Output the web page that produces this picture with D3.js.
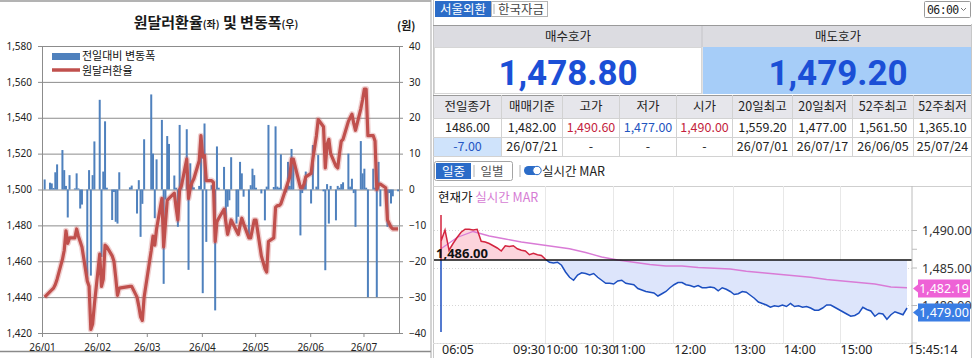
<!DOCTYPE html>
<html>
<head>
<meta charset="utf-8">
<script src="https://cdn.jsdelivr.net/npm/d3@7"></script>
<style>
  body { margin: 0; background: #fff; }
  svg { display: block; font-family: "Noto Sans CJK KR", "Noto Sans", sans-serif; }
</style>
</head>
<body>
<svg id="chart" width="976" height="358"></svg>
<script>
// ---- 원달러환율 (일별) : 거래일, 종가, 전일대비 변동폭 ----
const janDays = [2,5,6,7,8,9,12,13,14,15,16,19,20,21,22,23,26,27,28,29,30];
const febDays = [2,3,4,5,6,9,10,11,12,13,19,20,23,24,25,26,27];
const marDays = [3,4,5,6,9,10,11,12,13,16,17,18,19,20,23,24,25,26,27,30,31];
const aprDays = [1,2,3,6,7,8,9,10,13,14,15,16,17,20,21,22,23,24,27,28,29,30];
const mayDays = [1,4,6,7,8,11,12,13,14,15,18,19,20,21,22,26,27,28,29];
const junDays = [1,2,4,5,8,9,10,11,12,15,16,17,18,19,22,23,24,25,26,29,30];
const julDays = [1,2,3,6,7,8,9,10,13,14,15,16,17,20];

const rate = [
  1440,1443,1444,1445,1447,1450,1461,1466,1477,1470,1473,1473,1478,1474,1471,1468,1449,1446,1422,1425,1436,
  1464,1446,1450,1469,1468,1463,1460,1451,1441,1445,1446,1446,1440,1435,1429,1427,1440,
  1466,1474,1469,1478,1495,1468,1481,1494,1495,1498,1490,1483,1500,1502,1517,1495,1501,1504,1506,1516,1530,
  1518,1519,1505,1505,1504,1471,1482,1484,1489,1482,1475,1479,1483,1477,1475,1480,1484,1481,1473,1473,1478,1483,
  1483,1463,1456,1454,1471,1473,1490,1491,1491,1492,1501,1504,1507,1517,1517,1501,1501,1503,1507,
  1509,1517,1530,1539,1535,1512,1525,1528,1520,1513,1512,1520,1527,1528,1538,1540,1542,1537,1533,1545,1550,
  1556,1556,1530,1530,1527,1500,1503,1503,1501,1483,1481,1479,1478,1478
];
const change = [
  2.8,1.9,1.7,0.4,4.8,7.0,11.0,5.4,1.0,-7.8,4.0,0.3,4.5,0.3,-5.3,-4.2,-25.0,5.4,-24.0,4.0,13.4,
  25.0,-18.8,5.0,19.0,0.5,-8.5,-0.7,-9.0,-9.5,4.8,0.6,1.1,-6.7,2.6,-13.2,-4.0,14.0,
  26.5,10.0,-8.0,8.4,19.4,-26.3,-2.8,14.9,12.7,3.9,0.5,-10.4,18.0,0.8,16.8,-22.4,7.3,2.0,0.6,1.0,15.0,
  -28.9,18.4,-14.6,1.2,-1.0,-33.7,12.0,0.5,6.3,-10.0,-4.8,-3.0,9.0,-9.5,-7.6,7.7,4.5,-2.0,-12.8,1.2,5.8,4.0,
  0.5,-1.1,-8.6,0.8,18.0,0.7,17.6,0.8,0.5,9.8,-0.8,7.7,1.0,11.3,8.7,-12.8,-1.0,1.0,5.0,
  -3.9,12.4,0.8,9.6,-0.5,-22.5,1.5,-9.5,1.0,-8.6,1.0,0.5,1.5,2.0,10.0,0.8,3.0,-1.0,-10.4,13.5,4.5,
  5.8,0.5,-30.0,5.8,0.5,-30.0,7.7,-4.7,0.5,-10.4,-1.0,-3.9,-1.9,-0.5
];
const rateTicks = [1420,1440,1460,1480,1500,1520,1540,1560,1580];
const changeTicks = [-40,-30,-20,-10,0,10,20,30,40];
const monthLabels = ['26/01','26/02','26/03','26/04','26/05','26/06','26/07'];

// ---- 서울외환 시세판 ----
const quoteHeads = ['매수호가', '매도호가'];
const quotes = ['1,478.80', '1,479.20'];
const statHeads = ['전일종가','매매기준','고가','저가','시가','20일최고','20일최저','52주최고','52주최저'];
const statRow1 = ['1486.00','1,482.00','1,490.60','1,477.00','1,490.00','1,559.20','1,477.00','1,561.50','1,365.10'];
const statRow2 = ['-7.00','26/07/21','-','-','-','26/07/01','26/07/17','26/06/05','25/07/24'];

// ---- 일중 차트: 틱 순서대로 현재가, 실시간 MAR (4틱 간격) ----
const prevClose = 1486;
const openSpike = [1492.0, 1476.4];
const spot = [
  1488.5,1490.0,1487.3,1488.2,1489.0,1489.7,1490.1,1490.1,1490.0,1490.1,
  1488.5,1488.4,1488.2,1487.9,1487.6,1487.2,1487.9,1487.8,1487.9,1487.5,
  1487.3,1487.2,1486.7,1486.9,1486.7,1486.6,1486.1,1485.7,1485.6,1485.7,
  1485.3,1484.4,1483.7,1483.3,1484.0,1484.3,1484.2,1484.0,1484.2,1483.7,
  1483.3,1482.9,1482.9,1482.8,1483.2,1483.3,1482.9,1482.8,1482.7,1482.2,
  1482.0,1481.8,1481.7,1481.6,1481.2,1481.5,1481.8,1482.3,1482.7,1483.0,
  1483.0,1482.7,1482.6,1482.4,1482.6,1482.3,1482.3,1482.4,1482.3,1481.9,
  1482.3,1482.1,1481.8,1481.4,1481.5,1481.8,1481.7,1481.3,1480.9,1480.4,
  1480.2,1480.0,1479.7,1479.9,1479.8,1480.0,1479.8,1480.2,1479.8,1479.9,
  1479.7,1479.8,1479.6,1479.3,1479.3,1479.6,1480.0,1480.0,1479.7,1479.4,
  1479.1,1478.8,1478.5,1478.6,1478.9,1479.7,1479.4,1479.2,1478.5,1478.9,
  1478.8,1478.1,1478.7,1479.1,1478.9,1478.7,1479.6
];
const marStep = 4;
const mar = [
  1487.5,1489.0,1489.8,1489.2,1488.8,1488.4,1488.1,1487.8,1487.5,1487.0,
  1486.4,1486.0,1485.7,1485.4,1485.2,1485.2,1485.0,1484.9,1484.8,1484.5,
  1484.3,1484.1,1483.9,1483.7,1483.4,1483.2,1483.0,1482.8,1482.4,1482.3
];
const lastSpot = 1479.00;
const lastMar = 1482.19;
const timeLabels = ['06:05','09:30','10:00','10:30','11:00','12:00','13:00','14:00','15:00','15:45:14'];
const timeIdx = [0, 17.7, 25.9, 35.3, 42.7, 57.8, 72.6, 85.1, 99.2, 116];
const priceTicks = [1490, 1485, 1480];

const svg = d3.select('#chart');

/* ================= 왼쪽: 원달러환율 및 변동폭 ================= */
const left = svg.append('g');
const dates = [janDays, febDays, marDays, aprDays, mayDays, junDays, julDays]
  .flatMap((days, m) => days.map(d => new Date(2026, m, d, 12)));
const monthStarts = monthLabels.map((_, m) => new Date(2026, m, 1));

const x = d3.scaleTime().domain([new Date(2026, 0, 1), new Date(2026, 6, 21)]).range([42, 399]);
const yL = d3.scaleLinear().domain([1420, 1580]).range([333, 46]);
const yR = d3.scaleLinear().domain([-40, 40]).range([333, 46]);

// frame of the pasted chart image
left.append('line').attr('x1', 0).attr('x2', 431).attr('y1', 1).attr('y2', 1)
  .attr('stroke', '#9a9a9a').attr('stroke-width', 1.5);
left.append('line').attr('x1', 0).attr('x2', 431).attr('y1', 351.5).attr('y2', 351.5)
  .attr('stroke', '#8a8a8a').attr('stroke-width', 1.5);

left.append('text').attr('x', 216).attr('y', 28).attr('text-anchor', 'middle')
  .attr('font-weight', 'bold').attr('font-size', 15).attr('fill', '#1a1a1a')
  .call(t => {
    t.append('tspan').text('원달러환율');
    t.append('tspan').attr('font-size', 10).text('(좌)');
    t.append('tspan').text(' 및 변동폭');
    t.append('tspan').attr('font-size', 10).text('(우)');
  });
left.append('text').attr('x', 397).attr('y', 30).attr('font-size', 11)
  .attr('font-weight', 'bold').attr('fill', '#1a1a1a').text('(원)');

// gridlines
left.append('g').attr('transform', 'translate(42,0)')
  .call(d3.axisLeft(yL).tickValues(rateTicks).tickSize(-357).tickFormat(''))
  .call(g => g.select('.domain').remove())
  .call(g => g.selectAll('line').attr('stroke', '#8c8c8c'));

function styleAxis(g) {
  g.select('.domain').attr('stroke', '#8c8c8c');
  g.selectAll('.tick line').attr('stroke', '#8c8c8c');
  g.selectAll('text').attr('font-size', 10).attr('fill', '#222')
    .attr('font-family', '"Noto Sans", sans-serif');
}

left.append('g').attr('transform', 'translate(42,0)')
  .call(d3.axisLeft(yL).tickValues(rateTicks).tickSize(4).tickSizeOuter(0).tickPadding(6)
    .tickFormat(d3.format(',')))
  .call(styleAxis);
left.append('g').attr('transform', 'translate(399,0)')
  .call(d3.axisRight(yR).tickValues(changeTicks).tickSize(4).tickSizeOuter(0).tickPadding(6))
  .call(styleAxis)
  .call(g => g.selectAll('text').attr('text-anchor', 'start'));
left.append('g').attr('transform', 'translate(0,333)')
  .call(d3.axisBottom(x).tickValues(monthStarts).tickSize(4).tickSizeOuter(0).tickPadding(7)
    .tickFormat((d, i) => monthLabels[i]))
  .call(styleAxis);

// 전일대비 변동폭 bars
left.append('g').selectAll('rect').data(change).join('rect')
  .attr('x', (d, i) => x(dates[i]) - 1)
  .attr('width', 2)
  .attr('y', d => Math.min(yR(d), yR(0)))
  .attr('height', d => Math.abs(yR(d) - yR(0)))
  .attr('fill', '#4f81bd');

// 원달러환율 line (with soft glow like the excel export)
const rateLine = d3.line().x((d, i) => x(dates[i])).y(d => yL(d));
left.append('path').datum(rate).attr('d', rateLine)
  .attr('fill', 'none').attr('stroke', 'rgba(200,90,90,0.28)').attr('stroke-width', 6)
  .attr('stroke-linejoin', 'round');
left.append('path').datum(rate).attr('d', rateLine)
  .attr('fill', 'none').attr('stroke', '#c0504d').attr('stroke-width', 3.2)
  .attr('stroke-linejoin', 'round');

// legend
const lg = left.append('g').attr('font-size', 11).attr('fill', '#111');
lg.append('rect').attr('x', 52).attr('y', 53).attr('width', 28).attr('height', 7).attr('fill', '#4f81bd');
lg.append('text').attr('x', 82).attr('y', 60).text('전일대비 변동폭');
lg.append('line').attr('x1', 52).attr('x2', 80).attr('y1', 70).attr('y2', 70)
  .attr('stroke', '#c0504d').attr('stroke-width', 3.5);
lg.append('text').attr('x', 82).attr('y', 75).text('원달러환율');

/* ================= 오른쪽: 시세판 ================= */
const right = svg.append('g');
const pL = 433, pR = 971, mid = 702;

right.append('line').attr('x1', 431).attr('x2', 431).attr('y1', 0).attr('y2', 358).attr('stroke', '#a8a8a8');
right.append('line').attr('x1', 433.5).attr('x2', 433.5).attr('y1', 0).attr('y2', 358).attr('stroke', '#c8c8c8');
right.append('line').attr('x1', pR + 0.5).attr('x2', pR + 0.5).attr('y1', 24).attr('y2', 358).attr('stroke', '#c8c8c8');

// tabs
right.append('rect').attr('x', 435).attr('y', 1).attr('width', 56).attr('height', 16).attr('fill', '#2b6cc8');
right.append('text').attr('x', 463).attr('y', 14).attr('text-anchor', 'middle')
  .attr('font-size', 12.5).attr('fill', '#fff').text('서울외환');
right.append('rect').attr('x', 491.5).attr('y', 1.5).attr('width', 56).attr('height', 15)
  .attr('fill', '#fff').attr('stroke', '#b5b5b5');
right.append('line').attr('x1', 494).attr('x2', 494).attr('y1', 4).attr('y2', 14).attr('stroke', '#b0b0b0');
right.append('text').attr('x', 521).attr('y', 14).attr('text-anchor', 'middle')
  .attr('font-size', 12.5).attr('fill', '#444').text('한국자금');

right.append('rect').attr('x', 924.5).attr('y', 1.5).attr('width', 46).attr('height', 16)
  .attr('fill', '#fff').attr('stroke', '#9a9a9a').attr('rx', 1);
right.append('text').attr('x', 927).attr('y', 14).attr('font-size', 11.5).attr('fill', '#222')
  .attr('font-family', '"DejaVu Sans Mono", monospace').attr('letter-spacing', -0.6).text('06:00');
right.append('path').attr('d', 'M961,8 L963.5,10.5 L966,8').attr('fill', 'none').attr('stroke', '#777');

// 매수/매도 호가
right.append('line').attr('x1', pL).attr('x2', pR).attr('y1', 25.5).attr('y2', 25.5).attr('stroke', '#9a9a9a');
right.append('rect').attr('x', pL + 1).attr('y', 26).attr('width', pR - pL - 1).attr('height', 21).attr('fill', '#dcdce1');
right.append('line').attr('x1', mid).attr('x2', mid).attr('y1', 26).attr('y2', 94).attr('stroke', '#c4c4c8');
right.append('rect').attr('x', pL + 1.5).attr('y', 47.5).attr('width', mid - pL - 2).attr('height', 46)
  .attr('fill', '#fff').attr('stroke', '#d6d6d6');
right.append('rect').attr('x', mid + 1).attr('y', 47).attr('width', pR - mid - 1).attr('height', 47).attr('fill', '#a6cdf8');

const quoteX = d3.scaleBand().domain(quoteHeads).range([pL, pR + 2]);
right.append('g').selectAll('text').data(quoteHeads).join('text')
  .attr('x', d => quoteX(d) + quoteX.bandwidth() / 2).attr('y', 41)
  .attr('text-anchor', 'middle').attr('font-size', 12.5).attr('fill', '#222').text(d => d);
right.append('g').selectAll('text').data(quotes).join('text')
  .attr('x', (d, i) => quoteX(quoteHeads[i]) + quoteX.bandwidth() / 2).attr('y', 85)
  .attr('text-anchor', 'middle').attr('font-family', 'Roboto, sans-serif').attr('font-weight', 'bold')
  .attr('font-size', 35).attr('fill', '#1b4fd6').text(d => d);

// 통계 테이블
const cols = [433, 501, 562, 619, 676, 732, 792, 852, 913, 971];
const rowsY = [95, 118, 137, 156];
const tbl = right.append('g');
tbl.append('rect').attr('x', pL + 1).attr('y', rowsY[0]).attr('width', pR - pL - 1).attr('height', rowsY[1] - rowsY[0])
  .attr('fill', '#e6e6eb');
tbl.append('rect').attr('x', cols[0] + 1).attr('y', rowsY[2]).attr('width', cols[1] - cols[0] - 1).attr('height', rowsY[3] - rowsY[2])
  .attr('fill', '#cfe3fb');
tbl.selectAll('line.h').data(rowsY).join('line')
  .attr('x1', pL).attr('x2', pR).attr('y1', d => d + 0.5).attr('y2', d => d + 0.5)
  .attr('stroke', d => d === 95 ? '#9a9a9a' : '#d2d2d2');
tbl.selectAll('line.v').data(cols.slice(1, -1)).join('line')
  .attr('x1', d => d + 0.5).attr('x2', d => d + 0.5).attr('y1', rowsY[0]).attr('y2', rowsY[3])
  .attr('stroke', '#d2d2d2');

const rowColor1 = ['#222', '#222', '#c41f3e', '#1f55c0', '#c41f3e', '#222', '#222', '#222', '#222'];
[[statHeads, 111, () => '#222'], [statRow1, 132, (d, i) => rowColor1[i]],
 [statRow2, 151, (d, i) => i === 0 ? '#2456c4' : '#222']].forEach(([row, y, col]) => {
  tbl.append('g').selectAll('text').data(row).join('text')
    .attr('x', (d, i) => (cols[i] + cols[i + 1]) / 2 + 0.5).attr('y', y)
    .attr('text-anchor', 'middle').attr('font-size', 12.5).attr('fill', col).text(d => d);
});

// 일중 / 일별 buttons + 실시간 MAR toggle
right.append('rect').attr('x', 434.5).attr('y', 161.5).attr('width', 78).attr('height', 19).attr('rx', 2)
  .attr('fill', '#fff').attr('stroke', '#a5a5a5');
right.append('rect').attr('x', 436).attr('y', 163).attr('width', 35).attr('height', 16).attr('fill', '#2b6cc8');
right.append('text').attr('x', 453.5).attr('y', 176).attr('text-anchor', 'middle').attr('font-size', 12.5)
  .attr('fill', '#fff').text('일중');
right.append('line').attr('x1', 474).attr('x2', 474).attr('y1', 165).attr('y2', 177).attr('stroke', '#b0b0b0');
right.append('text').attr('x', 492).attr('y', 176).attr('text-anchor', 'middle').attr('font-size', 12.5)
  .attr('fill', '#555').text('일별');
right.append('line').attr('x1', 520).attr('x2', 520).attr('y1', 165).attr('y2', 177).attr('stroke', '#b0b0b0');
right.append('rect').attr('x', 524).attr('y', 166).attr('width', 17).attr('height', 9).attr('rx', 4.5).attr('fill', '#2b6cc8');
right.append('circle').attr('cx', 537).attr('cy', 170.5).attr('r', 4.2).attr('fill', '#fff').attr('stroke', '#2b6cc8');
right.append('text').attr('x', 542).attr('y', 176).attr('font-size', 12.5).attr('fill', '#222').text('실시간 MAR');

/* ================= 일중 차트 ================= */
const chart = svg.append('g');
const plotL = 434, plotR = 912, plotT = 186, plotB = 343;
const xI = d3.scaleLinear().domain([0, spot.length - 1]).range([441, 907]);
const yI = d3.scaleLinear().domain([1475, 1490]).range([342.5, 230]);
const yBase = yI(prevClose);

chart.append('line').attr('x1', pL).attr('x2', pR).attr('y1', plotT + 0.5).attr('y2', plotT + 0.5).attr('stroke', '#cfcfcf');
chart.append('line').attr('x1', pL).attr('x2', plotR).attr('y1', plotB + 0.5).attr('y2', plotB + 0.5).attr('stroke', '#e2e2e2');

// hourly vertical grid
const hourIdx = timeIdx.filter((d, i) => /^1\d:00$/.test(timeLabels[i]));
chart.append('g').selectAll('line').data(hourIdx).join('line')
  .attr('x1', d => Math.round(xI(d)) + 0.5).attr('x2', d => Math.round(xI(d)) + 0.5)
  .attr('y1', plotT).attr('y2', plotB).attr('stroke', '#e8e8e8');
chart.append('g').selectAll('line').data([1490, 1485, 1480, 1475]).join('line')
  .attr('x1', plotL).attr('x2', plotR).attr('y1', d => Math.round(yI(d)) + 0.5).attr('y2', d => Math.round(yI(d)) + 0.5)
  .attr('stroke', '#d6d6d6').attr('stroke-dasharray', '1,2');

// clip regions above / below 전일종가
const defs = svg.append('defs');
defs.append('clipPath').attr('id', 'up').append('rect')
  .attr('x', plotL).attr('y', plotT).attr('width', plotR - plotL).attr('height', yBase - plotT);
defs.append('clipPath').attr('id', 'dn').append('rect')
  .attr('x', plotL).attr('y', yBase).attr('width', plotR - plotL).attr('height', plotB - yBase);

const spotPts = spot.map((v, i) => [i, v]);
const tickPts = [[0, openSpike[0]], [0, openSpike[1]]].concat(spotPts);
const area = d3.area().x(d => xI(d[0])).y0(yBase).y1(d => yI(d[1]));
const pline = d3.line().x(d => xI(d[0])).y(d => yI(d[1]));

chart.append('path').datum(spotPts).attr('d', area).attr('fill', '#fcd4dc').attr('clip-path', 'url(#up)');
chart.append('path').datum(spotPts).attr('d', area).attr('fill', '#dde5fb').attr('clip-path', 'url(#dn)');

// 실시간 MAR
chart.append('path').datum(mar)
  .attr('d', d3.line().x((d, k) => xI(k * marStep)).y(d => yI(d)))
  .attr('fill', 'none').attr('stroke', '#d97bd6').attr('stroke-width', 1.3);

chart.append('path').datum(tickPts).attr('d', pline).attr('fill', 'none')
  .attr('stroke', '#d3243f').attr('stroke-width', 1.5).attr('clip-path', 'url(#up)');
chart.append('path').datum(tickPts).attr('d', pline).attr('fill', 'none')
  .attr('stroke', '#1c4fc0').attr('stroke-width', 1.5).attr('clip-path', 'url(#dn)');

// 전일종가 line + label
chart.append('line').attr('x1', plotL).attr('x2', plotR).attr('y1', yBase).attr('y2', yBase)
  .attr('stroke', '#111').attr('stroke-width', 1.3);
chart.append('text').attr('x', 436).attr('y', yBase - 2).attr('font-family', '"Noto Sans", sans-serif')
  .attr('font-weight', 'bold').attr('font-size', 13).attr('fill', '#111').text(d3.format(',.2f')(prevClose));

chart.append('text').attr('x', 438).attr('y', 202).attr('font-size', 12.5).attr('fill', '#111')
  .call(t => {
    t.append('tspan').text('현재가 ');
    t.append('tspan').attr('fill', '#d67cd4').text('실시간 MAR');
  });

// right price axis
chart.append('g').attr('transform', `translate(${plotR},0)`)
  .call(d3.axisRight(yI).tickValues([1475, 1480, 1485, 1487.5, 1490]).tickSize(5).tickFormat(''))
  .call(g => g.selectAll('line').attr('stroke', '#bcbcbc'))
  .call(g => g.select('.domain').attr('stroke', '#bcbcbc').attr('d', `M0,${plotT}V${plotB + 4}`));
chart.append('g').selectAll('text').data(priceTicks).join('text')
  .attr('x', 922).attr('y', d => yI(d) + 5).attr('font-size', 12.5).attr('fill', '#333')
  .attr('font-family', '"Noto Sans", sans-serif')
  .text(d => d3.format(',.2f')(d));

// time labels
chart.append('g').selectAll('text').data(timeLabels).join('text')
  .attr('x', (d, i) => xI(timeIdx[i]) + 1).attr('y', 354)
  .attr('font-family', '"Noto Sans", sans-serif')
  .attr('font-size', 12.5).attr('fill', '#222').text(d => d);

// price tags (MAR, 현재가), kept from overlapping
function tag(yc, fill, label) {
  const g = chart.append('g');
  g.append('path').attr('d', `M913,${yc} L918,${yc - 4} L918,${yc - 9} L970,${yc - 9} L970,${yc + 9} L918,${yc + 9} L918,${yc + 4} Z`)
    .attr('fill', fill);
  g.append('text').attr('x', 944).attr('y', yc + 4.5).attr('text-anchor', 'middle')
    .attr('font-family', '"Noto Sans", sans-serif')
    .attr('font-size', 12.5).attr('fill', '#fff').text(label);
}
const yMar = yI(lastMar);
const ySpot = Math.max(yI(lastSpot), yMar + 21);
tag(yMar, '#ee62d6', d3.format(',.2f')(lastMar));
tag(ySpot, '#3a7de4', d3.format(',.2f')(lastSpot));
</script>
</body>
</html>
